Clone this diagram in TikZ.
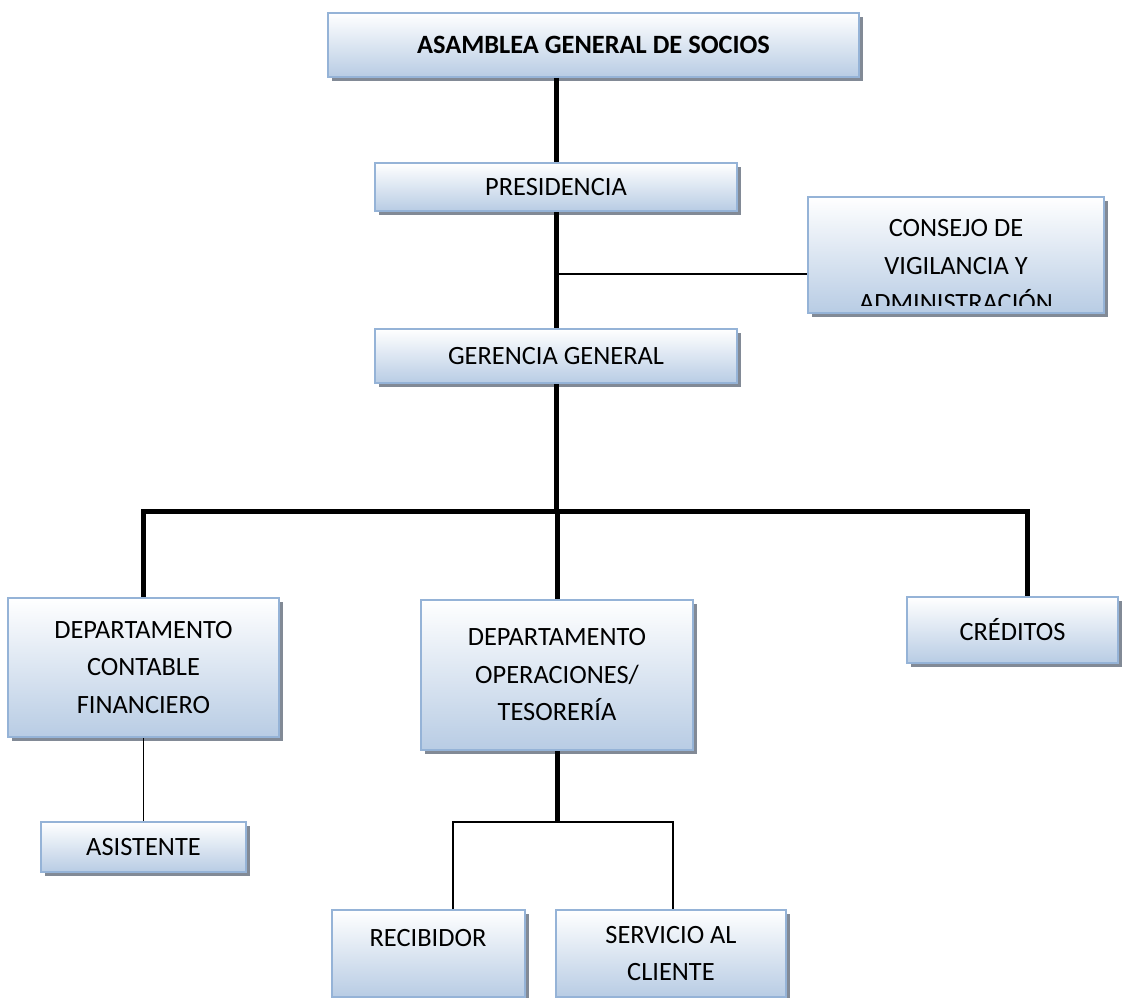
\documentclass[tikz,border=0pt]{standalone}
\usepackage{fontspec}
\setmainfont{Carlito}
\usetikzlibrary{shadows}
\definecolor{boxline}{RGB}{149,179,215}
\definecolor{boxblue}{RGB}{184,204,228}
\definecolor{shadowgray}{RGB}{130,138,150}
\tikzset{
	box/.style={
		draw=boxline,
		line width=2pt,
		top color=white,
		bottom color=boxblue,
		drop shadow={shadow xshift=4pt, shadow yshift=-4pt, fill=shadowgray, opacity=1},
		inner sep=0pt,
		align=center,
		font=\fontsize{26.4}{37.5}\selectfont},
	txt/.style={
		inner sep=0pt,
		align=center,
		font=\fontsize{26.4}{37.5}\selectfont},
	thickline/.style={line width=5pt, line join=miter},
	thinline/.style={line width=1.8pt}
}
\begin{document}
\begin{tikzpicture}[x=1pt, y=-1pt]
	\useasboundingbox (0,0) rectangle (1122,998);
	\node[box, minimum width=531, minimum height=64] (asamblea) at (593.5,45) {\bfseries ASAMBLEA GENERAL DE SOCIOS};
	\node[box, minimum width=362, minimum height=48] (pres) at (556,187) {PRESIDENCIA};
	\node[box, minimum width=296, minimum height=116] (consejo) at (956,255) {};
	\node[box, minimum width=362, minimum height=54] (ger) at (556,356) {GERENCIA GENERAL};
	\node[box, minimum width=271, minimum height=139] (contable) at (143.5,667.5) {DEPARTAMENTO\\CONTABLE\\FINANCIERO};
	\node[box, minimum width=272, minimum height=150] (operac) at (557,675) {DEPARTAMENTO\\OPERACIONES/\\TESORERÍA};
	\node[box, minimum width=211, minimum height=66] (creditos) at (1012.5,630) {CRÉDITOS};
	\node[box, minimum width=205, minimum height=50] (asistente) at (143.5,847) {ASISTENTE};
	\node[box, minimum width=193, minimum height=87] (recibidor) at (428.5,953.5) {};
	\node[box, minimum width=230, minimum height=87] (servicio) at (671,953.5) {SERVICIO AL\\CLIENTE};
	% texto del consejo y del recibidor
	\begin{scope}
		\clip (808,197) rectangle (1104,305);
		\node[txt] (consejo-t) at (956,266) {CONSEJO DE\\VIGILANCIA Y\\ADMINISTRACIÓN};
	\end{scope}
	\node[txt] (recibidor-t) at (428,938) {RECIBIDOR};
	% lineas
	\coordinate (cj) at (558,274);
	\coordinate (bus) at (1027,511);
	\coordinate (sub) at (673,822);
	\draw[thickline] (pres.north |- asamblea.south) -- (pres.north);
	\draw[thickline] (pres.south) -- (ger.north);
	\draw[thinline] (cj) -- (cj -| consejo.west);
	\draw[thickline] (ger.south) -- (ger.south |- bus);
	\draw[thickline] (contable.north) |- (bus) -- (bus |- creditos.north);
	\draw[thickline] (operac.north |- bus) -- (operac.north);
	\draw[thinline] (contable.south) -- (asistente.north);
	\draw[thickline] (operac.south) -- (operac.south |- sub);
	\draw[thinline] (recibidor.north -| 453,0) |- (sub) -- (sub |- servicio.north);
\end{tikzpicture}
\end{document}
